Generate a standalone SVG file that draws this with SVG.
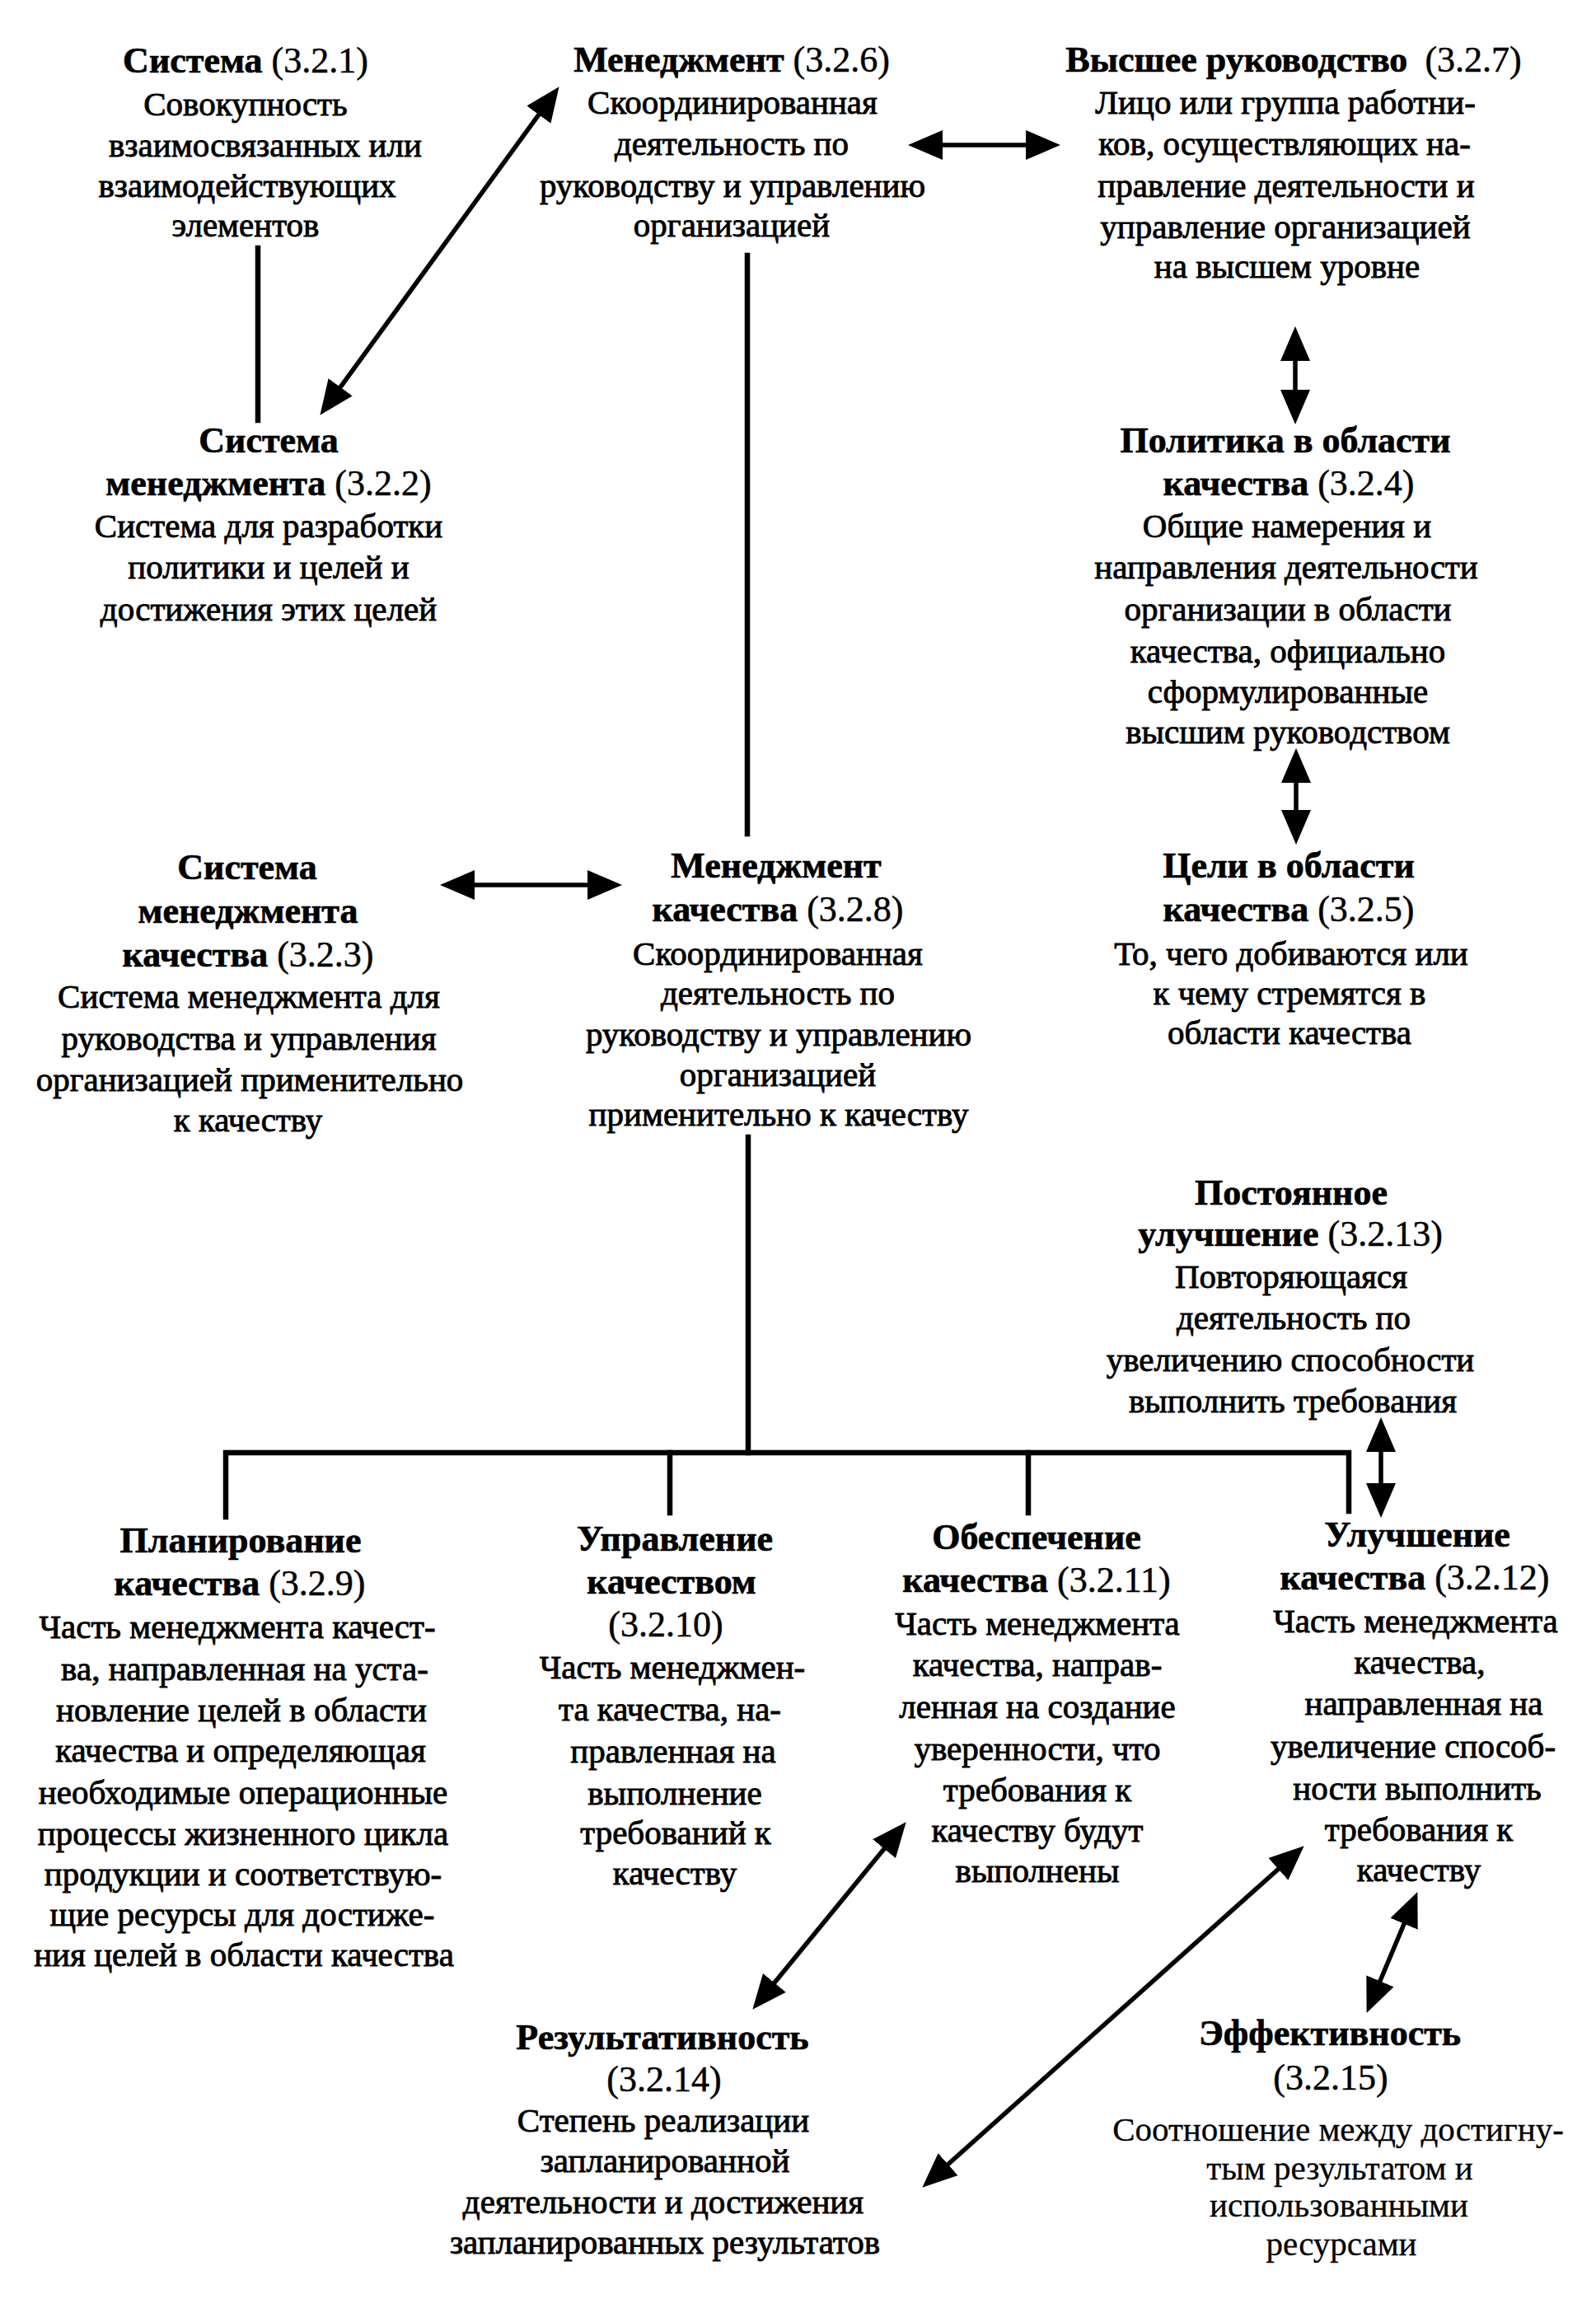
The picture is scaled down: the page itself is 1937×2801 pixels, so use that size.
<svg xmlns="http://www.w3.org/2000/svg" width="1937" height="2801" viewBox="0 0 1937 2801">
<style>
text { font-family: "Liberation Serif", "Times New Roman", serif; text-anchor: middle; fill: #000; }
.t { font-size: 44px; font-weight: bold; stroke: #000; stroke-width: 0.7px; }
.n { font-weight: normal; stroke-width: 0.5px; }
.d { font-size: 41px; font-weight: normal; stroke: #000; stroke-width: 0.9px; }
.l { font-size: 41px; font-weight: normal; stroke: #000; stroke-width: 0.3px; }
.ln { fill: none; stroke: #000; stroke-width: 6.5; stroke-linecap: square; }
.ar { fill: none; stroke: #000; stroke-width: 5.5; marker-start: url(#ah); marker-end: url(#ah); }
</style>
<defs>
<marker id="ah" viewBox="0 0 42 36" refX="31" refY="18" markerWidth="42" markerHeight="36" markerUnits="userSpaceOnUse" orient="auto-start-reverse">
<path d="M0,0 L42,18 L0,36 z" fill="#000"/>
</marker>
</defs>
<rect width="1937" height="2801" fill="#fff"/>

<g id="connectors">
<line class="ln" x1="313" y1="301" x2="313" y2="510"/>
<line class="ln" x1="907" y1="310" x2="907" y2="1012"/>
<line class="ln" x1="908" y1="1380" x2="908" y2="1763"/>
<polyline class="ln" points="274,1841 274,1763 1637,1763 1637,1834"/>
<line class="ln" x1="813" y1="1763" x2="813" y2="1836"/>
<line class="ln" x1="1248" y1="1763" x2="1248" y2="1836"/>
<line class="ar" x1="394.9" y1="494.9" x2="672.1" y2="114.1"/>
<line class="ar" x1="1113" y1="176" x2="1276" y2="176"/>
<line class="ar" x1="1572" y1="407" x2="1572" y2="504"/>
<line class="ar" x1="1573" y1="919" x2="1573" y2="1014"/>
<line class="ar" x1="545" y1="1074" x2="744" y2="1074"/>
<line class="ar" x1="1676" y1="1731" x2="1676" y2="1831"/>
<line class="ar" x1="920.3" y1="2430.3" x2="1092.7" y2="2219.7"/>
<line class="ar" x1="1127.5" y1="2647.3" x2="1574.5" y2="2247.7"/>
<line class="ar" x1="1662.9" y1="2432.8" x2="1716.1" y2="2306.2"/>
</g>

<g id="n321">
<text class="t" x="298" y="88">Система <tspan class="n">(3.2.1)</tspan></text>
<text class="d" x="298" y="140">Совокупность</text>
<text class="d" x="322" y="190">взаимосвязанных или</text>
<text class="d" x="300" y="239">взаимодействующих</text>
<text class="d" x="298" y="287">элементов</text>
</g>

<g id="n322">
<text class="t" x="326" y="549">Система</text>
<text class="t" x="326" y="601">менеджмента <tspan class="n">(3.2.2)</tspan></text>
<text class="d" x="326" y="652">Система для разработки</text>
<text class="d" x="326" y="702">политики и целей и</text>
<text class="d" x="326" y="753">достижения этих целей</text>
</g>

<g id="n326">
<text class="t" x="888" y="87">Менеджмент <tspan class="n">(3.2.6)</tspan></text>
<text class="d" x="889" y="138">Скоординированная</text>
<text class="d" x="888" y="188">деятельность по</text>
<text class="d" x="889" y="239">руководству и управлению</text>
<text class="d" x="888" y="287">организацией</text>
</g>

<g id="n327">
<text class="t" x="1570" y="87">Высшее руководство <tspan class="n" dx="10">(3.2.7)</tspan></text>
<text class="d" x="1560" y="138">Лицо или группа работни-</text>
<text class="d" x="1559" y="188">ков, осуществляющих на-</text>
<text class="d" x="1561" y="239">правление деятельности и</text>
<text class="d" x="1560" y="289">управление организацией</text>
<text class="d" x="1562" y="337">на высшем уровне</text>
</g>

<g id="n324">
<text class="t" x="1560" y="549">Политика в области</text>
<text class="t" x="1564" y="601">качества <tspan class="n">(3.2.4)</tspan></text>
<text class="d" x="1562" y="652">Общие намерения и</text>
<text class="d" x="1561" y="702">направления деятельности</text>
<text class="d" x="1563" y="753">организации в области</text>
<text class="d" x="1563" y="804">качества, официально</text>
<text class="d" x="1563" y="853">сформулированные</text>
<text class="d" x="1563" y="902">высшим руководством</text>
</g>

<g id="n325">
<text class="t" x="1564" y="1065">Цели в области</text>
<text class="t" x="1564" y="1118">качества <tspan class="n">(3.2.5)</tspan></text>
<text class="d" x="1567" y="1171">То, чего добиваются или</text>
<text class="d" x="1565" y="1219">к чему стремятся в</text>
<text class="d" x="1565" y="1267">области качества</text>
</g>

<g id="n323">
<text class="t" x="300" y="1067">Система</text>
<text class="t" x="301" y="1120">менеджмента</text>
<text class="t" x="301" y="1173">качества <tspan class="n">(3.2.3)</tspan></text>
<text class="d" x="302" y="1223">Система менеджмента для</text>
<text class="d" x="302" y="1274">руководства и управления</text>
<text class="d" x="303" y="1324">организацией применительно</text>
<text class="d" x="301" y="1373">к качеству</text>
</g>

<g id="n328">
<text class="t" x="942" y="1065">Менеджмент</text>
<text class="t" x="944" y="1118">качества <tspan class="n">(3.2.8)</tspan></text>
<text class="d" x="944" y="1171">Скоординированная</text>
<text class="d" x="944" y="1219">деятельность по</text>
<text class="d" x="945" y="1269">руководству и управлению</text>
<text class="d" x="944" y="1318">организацией</text>
<text class="d" x="945" y="1366">применительно к качеству</text>
</g>

<g id="n3213">
<text class="t" x="1567" y="1462">Постоянное</text>
<text class="t" x="1566" y="1512">улучшение <tspan class="n">(3.2.13)</tspan></text>
<text class="d" x="1567" y="1563">Повторяющаяся</text>
<text class="d" x="1570" y="1613">деятельность по</text>
<text class="d" x="1566" y="1664">увеличению способности</text>
<text class="d" x="1569" y="1714">выполнить требования</text>
</g>

<g id="n329">
<text class="t" x="292" y="1884">Планирование</text>
<text class="t" x="291" y="1936">качества <tspan class="n">(3.2.9)</tspan></text>
<text class="d" x="288" y="1988">Часть менеджмента качест-</text>
<text class="d" x="297" y="2039">ва, направленная на уста-</text>
<text class="d" x="293" y="2089">новление целей в области</text>
<text class="d" x="292" y="2138">качества и определяющая</text>
<text class="d" x="295" y="2189">необходимые операционные</text>
<text class="d" x="295" y="2239">процессы жизненного цикла</text>
<text class="d" x="295" y="2288">продукции и соответствую-</text>
<text class="d" x="294" y="2337">щие ресурсы для достиже-</text>
<text class="d" x="296" y="2386">ния целей в области качества</text>
</g>

<g id="n3210">
<text class="t" x="819" y="1882">Управление</text>
<text class="t" x="815" y="1934">качеством</text>
<text class="t" x="808" y="1986"><tspan class="n">(3.2.10)</tspan></text>
<text class="d" x="816" y="2037">Часть менеджмен-</text>
<text class="d" x="813" y="2088">та качества, на-</text>
<text class="d" x="817" y="2139">правленная на</text>
<text class="d" x="819" y="2190">выполнение</text>
<text class="d" x="820" y="2238">требований к</text>
<text class="d" x="819" y="2287">качеству</text>
</g>

<g id="n3211">
<text class="t" x="1258" y="1880">Обеспечение</text>
<text class="t" x="1258" y="1932">качества <tspan class="n">(3.2.11)</tspan></text>
<text class="d" x="1259" y="1984">Часть менеджмента</text>
<text class="d" x="1259" y="2034">качества, направ-</text>
<text class="d" x="1259" y="2085">ленная на создание</text>
<text class="d" x="1259" y="2136">уверенности, что</text>
<text class="d" x="1259" y="2186">требования к</text>
<text class="d" x="1259" y="2235">качеству будут</text>
<text class="d" x="1259" y="2284">выполнены</text>
</g>

<g id="n3212">
<text class="t" x="1720" y="1877">Улучшение</text>
<text class="t" x="1717" y="1929">качества <tspan class="n">(3.2.12)</tspan></text>
<text class="d" x="1718" y="1981">Часть менеджмента</text>
<text class="d" x="1723" y="2031">качества,</text>
<text class="d" x="1728" y="2081">направленная на</text>
<text class="d" x="1715" y="2133">увеличение способ-</text>
<text class="d" x="1720" y="2184">ности выполнить</text>
<text class="d" x="1722" y="2234">требования к</text>
<text class="d" x="1722" y="2283">качеству</text>
</g>

<g id="n3214">
<text class="t" x="804" y="2487">Результативность</text>
<text class="t" x="806" y="2538"><tspan class="n">(3.2.14)</tspan></text>
<text class="d" x="805" y="2587">Степень реализации</text>
<text class="d" x="807" y="2636">запланированной</text>
<text class="d" x="805" y="2686">деятельности и достижения</text>
<text class="d" x="807" y="2735">запланированных результатов</text>
</g>

<g id="n3215">
<text class="t" x="1614" y="2482">Эффективность</text>
<text class="t" x="1615" y="2536"><tspan class="n">(3.2.15)</tspan></text>
<text class="l" x="1624" y="2598">Соотношение между достигну-</text>
<text class="l" x="1626" y="2645">тым результатом и</text>
<text class="l" x="1625" y="2690">использованными</text>
<text class="l" x="1628" y="2737">ресурсами</text>
</g>
</svg>
